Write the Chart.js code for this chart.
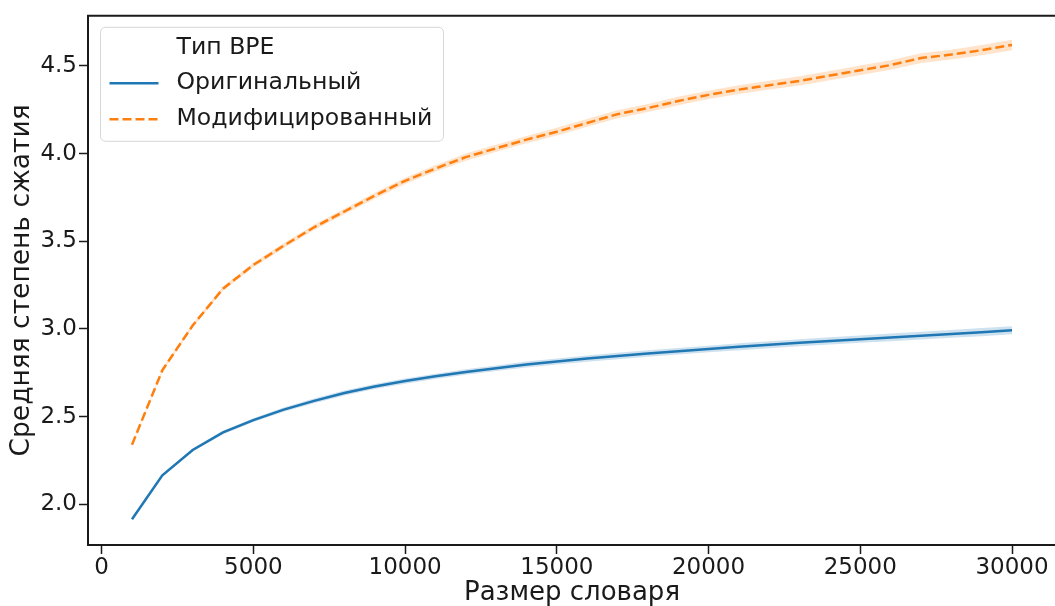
<!DOCTYPE html>
<html>
<head>
<meta charset="utf-8">
<script src="https://cdn.jsdelivr.net/npm/chart.js@4"></script>
<style>
  html, body { margin: 0; padding: 0; background: #fff; overflow: hidden; }
  #wrap { width: 1060px; height: 606px; }
</style>
</head>
<body>
<div id="wrap"><canvas id="chart" width="1060" height="606"></canvas></div>
<script>
// ---- data ----
const vocabSizes = [1000, 2000, 3000, 4000, 5000, 6000, 7000, 8000, 9000, 10000,
  11000, 12000, 13000, 14000, 15000, 16000, 17000, 18000, 19000, 20000,
  21000, 22000, 23000, 24000, 25000, 26000, 27000, 28000, 29000, 30000];

const originalRatio = [1.915, 2.165, 2.31, 2.41, 2.48, 2.54, 2.59, 2.635, 2.672, 2.703,
  2.73, 2.755, 2.776, 2.797, 2.815, 2.831, 2.846, 2.86, 2.873, 2.886,
  2.898, 2.91, 2.921, 2.932, 2.942, 2.952, 2.962, 2.972, 2.982, 2.993];

const modifiedRatio = [2.34, 2.765, 3.02, 3.23, 3.365, 3.475, 3.58, 3.67, 3.76, 3.845,
  3.915, 3.98, 4.03, 4.08, 4.125, 4.175, 4.225, 4.26, 4.30, 4.335,
  4.365, 4.39, 4.415, 4.445, 4.475, 4.505, 4.545, 4.565, 4.59, 4.62];

// half-width of the confidence band
const originalCi = [0.005, 0.007, 0.009, 0.010, 0.011, 0.012, 0.013, 0.014, 0.014, 0.015,
  0.015, 0.016, 0.016, 0.017, 0.017, 0.018, 0.018, 0.018, 0.019, 0.019,
  0.020, 0.020, 0.020, 0.021, 0.021, 0.022, 0.022, 0.022, 0.023, 0.023];

const modifiedCi = [0.006, 0.008, 0.010, 0.012, 0.013, 0.014, 0.015, 0.016, 0.017, 0.018,
  0.019, 0.020, 0.020, 0.021, 0.022, 0.022, 0.023, 0.023, 0.024, 0.024,
  0.025, 0.025, 0.026, 0.026, 0.027, 0.027, 0.028, 0.028, 0.029, 0.030];

const xTicks = [0, 5000, 10000, 15000, 20000, 25000, 30000];
const yTicks = [2.0, 2.5, 3.0, 3.5, 4.0, 4.5];

const seriesNames = ['Оригинальный', 'Модифицированный'];
const legendTitle = 'Тип BPE';
const xTitle = 'Размер словаря';
const yTitle = 'Средняя степень сжатия';

const BLUE = '#1f77b4';
const ORANGE = '#ff7f0e';
const INK = '#1a1a1a';
const FONT = '"DejaVu Sans", sans-serif';
const DASH = [9, 4];

const pts = (ys) => vocabSizes.map((x, i) => ({ x, y: ys[i] }));
const shifted = (ys, ci, sign) => vocabSizes.map((x, i) => ({ x, y: ys[i] + sign * ci[i] }));

// ---- plugins: spines + legend box ----
// right spine sits just past the picture edge, so only left/top/bottom are drawn
const frame = {
  id: 'frame',
  afterDraw(chart) {
    const { ctx, chartArea: a } = chart;
    ctx.save();
    ctx.strokeStyle = INK;
    ctx.lineWidth = 2;
    ctx.beginPath();
    ctx.moveTo(chart.width, a.top);
    ctx.lineTo(a.left, a.top);
    ctx.lineTo(a.left, a.bottom);
    ctx.lineTo(chart.width, a.bottom);
    ctx.stroke();
    ctx.restore();
  }
};

const legendBox = {
  id: 'legendBox',
  afterDraw(chart) {
    const { ctx, chartArea: a } = chart;
    const x = a.left + 12.5, y = a.top + 11.5, w = 343, h = 114;
    ctx.save();
    ctx.beginPath();
    ctx.roundRect(x, y, w, h, 5);
    ctx.fillStyle = 'rgba(255,255,255,0.8)';
    ctx.fill();
    ctx.strokeStyle = '#d6d6d6';
    ctx.lineWidth = 1;
    ctx.stroke();

    ctx.font = '23.6px ' + FONT;
    ctx.fillStyle = INK;
    ctx.textBaseline = 'middle';
    const tx = x + 76;
    ctx.fillText(legendTitle, tx, y + 21);
    const rows = [
      { label: seriesNames[0], color: BLUE, dash: [], cy: y + 56 },
      { label: seriesNames[1], color: ORANGE, dash: DASH, cy: y + 92 }
    ];
    rows.forEach(r => {
      ctx.beginPath();
      ctx.setLineDash(r.dash);
      ctx.strokeStyle = r.color;
      ctx.lineWidth = 2.5;
      ctx.moveTo(x + 9, r.cy);
      ctx.lineTo(x + 58, r.cy);
      ctx.stroke();
      ctx.setLineDash([]);
      ctx.fillStyle = INK;
      ctx.fillText(r.label, tx, r.cy);
    });
    ctx.restore();
  }
};

// ---- chart ----
const ctx = document.getElementById('chart').getContext('2d');
new Chart(ctx, {
  type: 'line',
  data: {
    datasets: [
      { label: seriesNames[0], data: pts(originalRatio), borderColor: BLUE, borderWidth: 2.5,
        pointRadius: 0, fill: false, tension: 0, order: 0 },
      { label: seriesNames[1], data: pts(modifiedRatio), borderColor: ORANGE, borderWidth: 2.5,
        borderDash: DASH, pointRadius: 0, fill: false, tension: 0, order: 0 },
      { label: 'orig-lo', data: shifted(originalRatio, originalCi, -1), borderWidth: 0,
        pointRadius: 0, fill: false, order: 2 },
      { label: 'orig-hi', data: shifted(originalRatio, originalCi, 1), borderWidth: 0,
        pointRadius: 0, fill: { target: 2 }, backgroundColor: 'rgba(31,119,180,0.22)', order: 2 },
      { label: 'mod-lo', data: shifted(modifiedRatio, modifiedCi, -1), borderWidth: 0,
        pointRadius: 0, fill: false, order: 2 },
      { label: 'mod-hi', data: shifted(modifiedRatio, modifiedCi, 1), borderWidth: 0,
        pointRadius: 0, fill: { target: 4 }, backgroundColor: 'rgba(255,127,14,0.22)', order: 2 }
    ]
  },
  options: {
    responsive: false,
    animation: false,
    devicePixelRatio: 1,
    layout: { padding: { top: 15, right: 4, left: 0, bottom: 0 } },
    plugins: { legend: { display: false }, tooltip: { enabled: false } },
    scales: {
      x: {
        type: 'linear', min: -450, max: 31450,
        afterBuildTicks: s => { s.ticks = xTicks.map(v => ({ value: v })); },
        afterFit: s => { s.height = 61; },
        border: { display: false },
        grid: { drawOnChartArea: false, drawTicks: true, tickLength: 9, tickWidth: 1.5, color: INK },
        ticks: { autoSkip: false, padding: 0, color: INK,
          font: { family: FONT, size: 23 }, maxRotation: 0, callback: v => String(v) },
        title: { display: true, text: xTitle, color: INK, padding: 0,
          font: { family: FONT, size: 26, lineHeight: 1.0 } }
      },
      y: {
        min: 1.768, max: 4.786,
        afterBuildTicks: s => { s.ticks = yTicks.map(v => ({ value: v })); },
        afterFit: s => { s.width = 88; },
        border: { display: false },
        grid: { drawOnChartArea: false, drawTicks: true, tickLength: 9, tickWidth: 1.5, color: INK },
        ticks: { autoSkip: false, padding: 2, color: INK,
          font: { family: FONT, size: 23 }, callback: v => v.toFixed(1) },
        title: { display: true, text: yTitle, color: INK, padding: { top: 6, bottom: 0 },
          font: { family: FONT, size: 26.5, lineHeight: 1.2 } }
      }
    }
  },
  plugins: [frame, legendBox]
});
</script>
</body>
</html>
